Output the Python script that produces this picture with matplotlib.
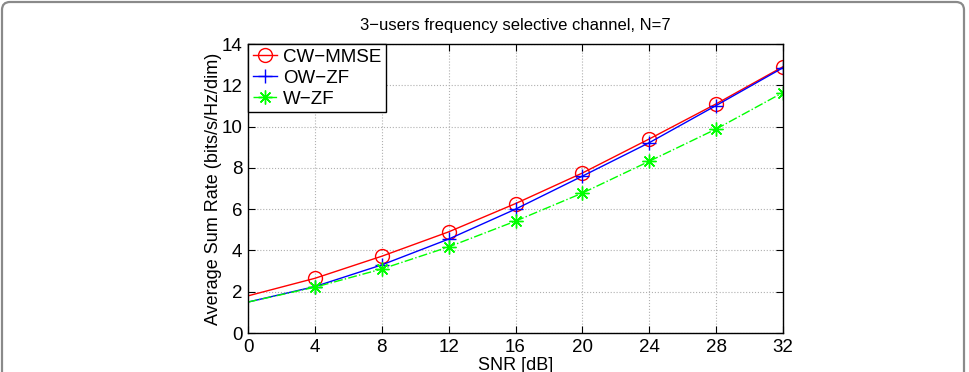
import matplotlib
matplotlib.use("Agg")
import matplotlib.pyplot as plt
from matplotlib.patches import FancyBboxPatch

plt.rcParams['font.family'] = ['Liberation Sans', 'DejaVu Sans']

# data
snr = [0, 4, 8, 12, 16, 20, 24, 28, 32]
cw_mmse = [1.8, 2.65, 3.72, 4.9, 6.27, 7.75, 9.4, 11.1, 12.9]
ow_zf = [1.5, 2.25, 3.3, 4.55, 6.0, 7.6, 9.22, 11.02, 12.85]
w_zf = [1.5, 2.22, 3.1, 4.17, 5.42, 6.78, 8.32, 9.88, 11.65]

xticks = [0, 4, 8, 12, 16, 20, 24, 28, 32]
yticks = [0, 2, 4, 6, 8, 10, 12, 14]

fig = plt.figure(figsize=(9.7, 3.72), dpi=100)
ax = fig.add_axes([0.2557, 0.1048, 0.8072 - 0.2557, 0.8817 - 0.1048])

# outer frame of the figure panel
frame = FancyBboxPatch((0.02, -0.3), 9.62, 4.0, boxstyle="round,pad=0,rounding_size=0.08",
                       transform=fig.dpi_scale_trans, fill=False, edgecolor="#8a8a8a",
                       linewidth=1.6, clip_on=False)
fig.patches.append(frame)

ax.plot(snr, cw_mmse, color="#ff0000", lw=1.0, marker="o", ms=10, mfc="none",
        mec="#ff0000", mew=1.0, markevery=range(1, len(snr)), label="CW\u2212MMSE")
ax.plot(snr, ow_zf, color="#0000ff", lw=1.0, marker="+", ms=10, mew=1.0,
        markevery=range(1, len(snr)), label="OW\u2212ZF")
ax.plot(snr, w_zf, color="#00ff00", lw=1.0, ls="-.", marker=(8, 2, 0), ms=10, mew=1.0,
        markevery=range(1, len(snr)), label="W\u2212ZF")

ax.set_xlim(0, 32)
ax.set_ylim(0, 14)
ax.set_xticks(xticks)
ax.set_yticks(yticks)
ax.tick_params(direction="in", length=5, width=0.8, labelsize=13.5, top=True, right=True, pad=4)
ax.grid(True, ls=":", color="#b0b0b0", lw=0.8)
for s in ax.spines.values():
    s.set_linewidth(1.0)

ax.set_title("3\u2212users frequency selective channel, N=7", fontsize=12, pad=10)
ax.set_xlabel("SNR [dB]", fontsize=13, labelpad=1)
ax.set_ylabel("Average Sum Rate (bits/s/Hz/dim)", fontsize=13, labelpad=0)

leg = ax.legend(loc="upper left", borderaxespad=0, fontsize=13.5, fancybox=False,
                edgecolor="black", framealpha=1, handlelength=1.3, handletextpad=0.3,
                labelspacing=0.2, borderpad=0.25, numpoints=1)
leg.get_frame().set_linewidth(1.0)

fig.savefig("out.png", dpi=100)
